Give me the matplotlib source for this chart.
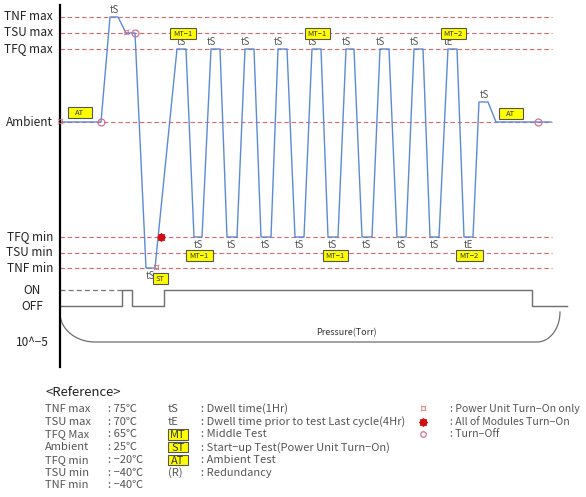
import matplotlib
matplotlib.use("Agg")
import matplotlib.pyplot as plt
from matplotlib.patches import Rectangle
import numpy as np

plt.rcParams['font.family'] = ['Noto Sans CJK KR', 'DejaVu Sans']

# ---------------- data ----------------
level_names = ['TNF max', 'TSU max', 'TFQ max', 'Ambient', 'TFQ min', 'TSU min', 'TNF min']
level_temps = [75, 70, 65, 25, -20, -40, -40]
# schematic vertical position of each level (diagram is not to scale)
level_pos = {'TNF max': 17, 'TSU max': 33, 'TFQ max': 49, 'Ambient': 122, 'AT peak': 102,
             'TFQ min': 237, 'TSU min': 253, 'TNF min': 268, 'ON': 290, 'OFF': 306, '10^-5': 342}

# temperature profile: time (schematic) and level
temp_t = [0, 41, 50, 58, 66, 75, 86, 95, 117, 126,
          134, 142, 151, 160, 167, 177, 185, 194, 201, 211, 218, 227, 235, 244,
          252, 261, 268, 278, 286, 294, 302, 312, 320, 329, 337, 346, 354, 363,
          370, 379, 388, 397, 404, 413, 419, 428, 436, 491]
temp_lv = ['Ambient', 'Ambient', 'TNF max', 'TNF max', 'TSU max', 'TSU max', 'TNF min', 'TNF min',
           'TFQ max', 'TFQ max'] + ['TFQ min', 'TFQ min', 'TFQ max', 'TFQ max'] * 8 + \
          ['TFQ min', 'TFQ min', 'AT peak', 'AT peak', 'Ambient', 'Ambient']

# power unit ON/OFF
pwr_t = [0, 62, 62, 72, 72, 104, 104, 472, 472, 507]
pwr_lv = ['OFF', 'OFF', 'ON', 'ON', 'OFF', 'OFF', 'ON', 'ON', 'OFF', 'OFF']

# dwell labels
dwell_t = [54, 121, 151, 185, 218, 252, 286, 320, 354, 388,
           90, 138, 171, 205, 239, 272, 306, 341, 374, 408, 424]
dwell_lv = ['TNF max'] + ['TFQ max'] * 9 + ['TNF min'] + ['TFQ min'] * 9 + ['AT peak']
dwell_txt = ['tS'] * 9 + ['tE'] + ['tS'] * 9 + ['tE', 'tS']
dwell_above = [True] * 10 + [False] * 10 + [True]

# test boxes
box_t = [20, 123, 257, 393, 451, 100, 139, 275, 409]
box_lv = ['Ambient', 'TSU max', 'TSU max', 'TSU max', 'Ambient', 'TNF min', 'TSU min', 'TSU min', 'TSU min']
box_txt = ['AT', 'MT-1', 'MT-1', 'MT-2', 'AT', 'ST', 'MT-1', 'MT-1', 'MT-2']
box_dy = [-10, 0, 0, 0, -9, 10, 2, 2, 2]
box_w = [24, 26, 25, 25, 24, 15, 27, 25, 27]

# event markers
pu_on_t = [0, 66, 96]          # power unit turn-on only
pu_on_lv = ['Ambient', 'TSU max', 'TNF min']
all_on_t = [101]
all_on_lv = ['TFQ min']
off_t = [41, 75, 478]
off_lv = ['Ambient', 'TSU max', 'Ambient']

legend_left = ['TNF max', 'TSU max', 'TFQ Max', 'Ambient', 'TFQ min', 'TSU min', 'TNF min']
legend_vals = [75, 70, 65, 25, -20, -40, -40]
legend_sym = ['tS', 'tE', 'MT', 'ST', 'AT', '(R)']
legend_sym_box = [False, False, True, True, True, False]
legend_desc = ['Dwell time(1Hr)', 'Dwell time prior to test Last cycle(4Hr)', 'Middle Test',
               'Start-up Test(Power Unit Turn-On)', 'Ambient Test', 'Redundancy']
legend_ev = ['Power Unit Turn-On only', 'All of Modules Turn-On', 'Turn-Off']

# ---------------- drawing ----------------
X0 = 60  # time origin (axis position)
fig = plt.figure(figsize=(5.86, 4.97), dpi=100)
ax = fig.add_axes([0, 0, 1, 1])
ax.set_xlim(0, 586)
ax.set_ylim(497, 0)
ax.axis('off')

def Y(lv):
    return level_pos[lv]

def ybox(x, y, w, h, s, fs):
    ax.add_patch(Rectangle((x - w / 2, y - h / 2), w, h, fc='#ffff00', ec='#555555', lw=0.8, zorder=5))
    ax.text(x, y, s, ha='center', va='center_baseline', fontsize=fs, color='#333333', zorder=6)

# reference dashed lines
for name in level_names:
    ax.plot([X0, 552], [Y(name), Y(name)], color='#d9676b', lw=0.8, dashes=(4, 2.5), zorder=1)
    ax.text(53, Y(name), name, ha='right', va='center', fontsize=8.5, color='#222222')
for name in ['ON', 'OFF']:
    ax.text(32, Y(name), name, ha='center', va='center', fontsize=8.5, color='#222222')
ax.text(32, Y('10^-5'), '10^−5', ha='center', va='center', fontsize=8.5, color='#222222')

# vertical axis
ax.plot([X0, X0], [5, 367], color='black', lw=1.6, zorder=3)

# temperature profile
ax.plot([X0 + t for t in temp_t], [Y(l) for l in temp_lv], color='#5b8bd4', lw=1.0, zorder=2)

# power line
ax.plot([X0, X0 + pwr_t[2]], [Y('ON'), Y('ON')], color='#777777', lw=0.9, dashes=(4, 2.5))
ax.plot([X0 + t for t in pwr_t], [Y(l) for l in pwr_lv], color='#6f6f6f', lw=1.0)

# pressure curve
th = np.linspace(np.pi, 1.5 * np.pi, 40)
lx = 95 + 35 * np.cos(th)
ly = 313 - 29 * np.sin(th)
rth = np.linspace(1.5 * np.pi, 2.0 * np.pi, 40)
rx = 537 + 23 * np.cos(rth)
ry = 312 - 30 * np.sin(rth)
ax.plot(np.concatenate([lx, rx]), np.concatenate([ly, ry]), color='#6f6f6f', lw=0.9)
ax.text(346, 333, 'Pressure(Torr)', ha='center', va='center', fontsize=6.5, color='#333333')

# dwell labels
for t, lv, s, up in zip(dwell_t, dwell_lv, dwell_txt, dwell_above):
    ax.text(X0 + t, Y(lv) + (-7 if up else 8), s, ha='center', va='center', fontsize=7, color='#555555')

# boxes
for t, lv, s, dy, w in zip(box_t, box_lv, box_txt, box_dy, box_w):
    ybox(X0 + t, Y(lv) + dy, w, 11, s.replace('-', '−'), 5.5)

# markers
for t, lv in zip(pu_on_t, pu_on_lv):
    ax.text(X0 + t, Y(lv), '¤', ha='center', va='center', fontsize=8, color='#d07080',
            family='DejaVu Sans', zorder=6)
for t, lv in zip(off_t, off_lv):
    ax.plot(X0 + t, Y(lv), 'o', ms=5, mfc='none', mec='#d07090', mew=0.9, zorder=6)
for t, lv in zip(all_on_t, all_on_lv):
    ax.plot(X0 + t, Y(lv), marker=(8, 2, 0), ms=6.5, color='#e03030', mew=0.8, zorder=6)
    ax.plot(X0 + t, Y(lv), 'o', ms=4.5, color='#d01010', zorder=7)

# legend
ax.text(45, 393, '<Reference>', ha='left', va='center', fontsize=9.5, color='#222222')
ry0, dy = 409, 12.7
for i, (nm, v) in enumerate(zip(legend_left, legend_vals)):
    y = ry0 + i * dy
    ax.text(45, y, nm, ha='left', va='center', fontsize=8, color='#555555')
    ax.text(108, y, ': %s℃' % str(v).replace('-', '−'), ha='left', va='center', fontsize=8, color='#555555')
for i, (s, bx, d) in enumerate(zip(legend_sym, legend_sym_box, legend_desc)):
    y = ry0 + i * dy
    if bx:
        ybox(178, y, 20, 10.5, s, 8)
    else:
        ax.text(168, y, s, ha='left', va='center', fontsize=8, color='#555555')
    ax.text(201, y, ': ' + d.replace('-', '−'), ha='left', va='center', fontsize=8, color='#555555')
for i, d in enumerate(legend_ev):
    y = ry0 + i * dy
    ax.text(450, y, ': ' + d.replace('-', '−'), ha='left', va='center', fontsize=7.6, color='#555555')
ax.text(423, ry0, '¤', ha='center', va='center', fontsize=8, color='#d07080', family='DejaVu Sans')
ax.plot(423, ry0 + dy, marker=(8, 2, 0), ms=6.5, color='#e03030', mew=0.8)
ax.plot(423, ry0 + dy, 'o', ms=4.5, color='#d01010')
ax.plot(423, ry0 + 2 * dy, 'o', ms=4, mfc='none', mec='#d07090', mew=0.9)

fig.savefig('out.png', dpi=100)
